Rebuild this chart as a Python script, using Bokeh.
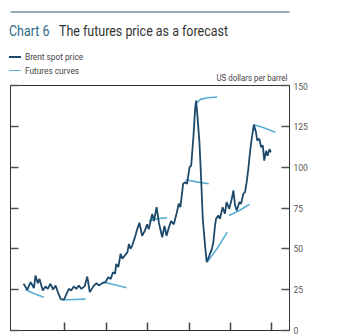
from bokeh.plotting import figure
from bokeh.layouts import column
from bokeh.models import Range1d, LinearAxis, FixedTicker, Div
from bokeh.embed import file_html
from bokeh.resources import INLINE

# ---- data ----
spot_year = [2000.00, 2000.18, 2000.34, 2000.50, 2000.58, 2000.69, 2000.77, 2000.93,
             2001.06, 2001.17, 2001.30, 2001.43, 2001.55, 2001.66, 2001.79, 2001.95,
             2002.08, 2002.19, 2002.30, 2002.43, 2002.55, 2002.67, 2002.79, 2002.95,
             2003.08, 2003.20, 2003.37, 2003.53, 2003.64, 2003.80, 2003.96, 2004.09,
             2004.21, 2004.32, 2004.42, 2004.48, 2004.58, 2004.69, 2004.77, 2004.90,
             2005.02, 2005.09, 2005.17, 2005.25, 2005.38, 2005.49, 2005.60, 2005.73,
             2005.86, 2005.97, 2006.05, 2006.22, 2006.30, 2006.43, 2006.54, 2006.70,
             2006.81, 2006.91, 2007.02, 2007.13, 2007.26, 2007.39, 2007.50, 2007.58,
             2007.71, 2007.82, 2007.90, 2008.02, 2008.10, 2008.21, 2008.29, 2008.34,
             2008.40, 2008.50, 2008.58, 2008.66, 2008.77, 2008.85, 2008.98, 2009.10,
             2009.17, 2009.25, 2009.30, 2009.41, 2009.49, 2009.62, 2009.73, 2009.81,
             2009.94, 2010.06, 2010.14, 2010.22, 2010.30, 2010.43, 2010.51, 2010.62,
             2010.70, 2010.78, 2010.86, 2010.94, 2011.02, 2011.13, 2011.23, 2011.29,
             2011.39, 2011.48, 2011.56, 2011.63, 2011.72, 2011.79, 2011.88, 2011.95]
spot_price = [28.6, 24.9, 29.6, 26.0, 33.7, 29.0, 31.6, 24.5,
              27.0, 25.5, 28.6, 25.0, 27.6, 23.5, 19.4, 18.8,
              22.5, 25.5, 24.5, 27.0, 25.5, 27.6, 25.5, 27.0,
              33.0, 23.5, 27.0, 29.0, 27.6, 29.0, 29.6, 32.6,
              31.6, 35.7, 34.7, 40.8, 38.8, 47.0, 44.0, 46.0,
              48.0, 53.0, 50.0, 52.0, 57.0, 62.0, 66.0, 58.0,
              61.0, 65.0, 62.0, 71.4, 67.0, 75.5, 66.0, 57.0,
              64.0, 58.0, 63.0, 67.0, 65.0, 71.4, 77.6, 75.5,
              89.8, 90.8, 89.8, 100.0, 101.0, 119.0, 135.7, 140.8,
              131.7, 115.0, 92.9, 68.4, 52.0, 41.8, 46.0, 50.0,
              54.0, 64.0, 68.4, 70.4, 68.4, 75.5, 71.5, 78.6,
              74.5, 80.6, 85.7, 76.5, 73.5, 78.6, 77.6, 83.7,
              84.7, 90.8, 99.0, 109.0, 117.0, 126.0, 121.4, 116.3,
              117.4, 112.2, 113.3, 104.0, 110.0, 107.0, 111.0, 109.0]

futures_year = [
    [2000.10, 2000.53, 2000.98],
    [2001.95, 2002.46, 2003.00],
    [2003.86, 2004.40, 2004.98],
    [2006.05, 2006.47, 2006.94],
    [2007.83, 2008.36, 2008.95],
    [2008.38, 2008.55, 2008.89, 2009.36],
    [2008.89, 2009.37, 2009.84],
    [2009.93, 2010.43, 2010.92],
    [2011.14, 2011.64, 2012.17],
]
futures_price = [
    [25.0, 22.5, 20.4],
    [18.8, 19.0, 19.2],
    [29.6, 28.0, 26.2],
    [67.0, 68.5, 69.0],
    [92.3, 91.0, 89.8],
    [139.5, 141.5, 142.5, 143.0],
    [42.0, 50.5, 60.2],
    [70.4, 73.5, 77.3],
    [126.0, 124.0, 121.4],
]

year_ticks = [2002, 2004, 2006, 2008, 2010, 2012]
price_ticks = [0, 25, 50, 75, 100, 125, 150]

title_num = "Chart 6"
title_text = "The futures price as a forecast"
unit_text = "US dollars per barrel"
legend_labels = ["Brent spot price", "Futures curves"]

# ---- styling ----
SPOT = "#1d4a6b"
FUT = "#5aaed3"
FONT = "Roboto"
RULE = "#2f5a6a"
W = 345
RULE_H = 13
HEAD_H = 82 - RULE_H
MAIN_H = 335 - RULE_H - HEAD_H

# ---------- thin rule strip at the very top ----------
r = figure(width=W, height=RULE_H, output_backend="svg", toolbar_location=None,
           x_range=Range1d(10, 289), y_range=Range1d(RULE_H, 0),
           x_axis_location=None, y_axis_location=None,
           min_border=0, min_border_left=0, min_border_right=0,
           min_border_top=0, min_border_bottom=0, margin=0)
r.outline_line_color = None
r.xgrid.visible = False
r.ygrid.visible = False
r.background_fill_color = "white"
r.border_fill_color = "white"
r.segment(x0=[8], y0=[11.5], x1=[337], y1=[11.5], line_color=RULE, line_width=1.1)


def box(left, top, width, height, color):
    return (f'<div style="position:absolute;left:{left}px;top:{top - RULE_H}px;'
            f'width:{width}px;height:{height}px;background-color:{color};"></div>')


def txt(s, left, top, size, color, scale, weight=400, right=None):
    pos = f"right:{right}px;" if right is not None else f"left:{left}px;"
    origin = "right top" if right is not None else "left top"
    return (f'<div style="position:absolute;{pos}top:{top - RULE_H}px;font-size:{size}px;'
            f'line-height:1;color:{color};font-weight:{weight};white-space:nowrap;'
            f'transform:scaleX({scale});transform-origin:{origin};">{s}</div>')


header_html = (
    f'<div style="position:relative;width:{W}px;height:{HEAD_H}px;'
    f'font-family:{FONT}, sans-serif;overflow:visible;">'
    + txt(title_num, 9, 24, 14, "#2d6a85", 0.89)
    + txt(title_text, 59, 24, 14, "#333333", 0.89)
    + box(9, 55.7, 12, 2.6, SPOT)
    + txt(legend_labels[0], 25, 52.4, 9.5, "#444444", 0.87)
    + box(9, 69.5, 12, 1.6, FUT)
    + txt(legend_labels[1], 25, 65.9, 9.5, "#444444", 0.87)
    + txt(unit_text, 0, 72.5, 9.5, "#444444", 0.83, right=W - 287)
    + '</div>'
)
header = Div(text=header_html, width=W, height=HEAD_H, margin=0)

# ---------- main chart ----------
X0, X1 = 1999.37, 2012.85
Y0, Y1 = 0, 150

p = figure(width=W, height=MAIN_H, output_backend="svg", toolbar_location=None,
           x_range=Range1d(X0, X1), y_range=Range1d(Y0, Y1),
           min_border_left=10, min_border_right=56,
           min_border_top=3, min_border_bottom=5, margin=0)
p.background_fill_color = "white"
p.border_fill_color = "white"
p.border_fill_alpha = 0
p.outline_line_color = "#333333"
p.outline_line_width = 1
p.xgrid.visible = False
p.ygrid.visible = False

# bottom axis: inward ticks, labels cut off in the original
xa = p.xaxis[0]
xa.ticker = FixedTicker(ticks=year_ticks)
xa.major_label_overrides = {t: "" for t in year_ticks}
xa.major_tick_in = 8
xa.major_tick_out = 0
xa.minor_tick_in = 0
xa.minor_tick_out = 0
xa.major_tick_line_color = "#444444"
xa.major_tick_line_width = 1.5
xa.axis_line_color = "#333333"
xa.major_label_standoff = 0

# left axis: inward ticks, no labels
ya = p.yaxis[0]
ya.ticker = FixedTicker(ticks=price_ticks)
ya.major_label_overrides = {t: "" for t in price_ticks}
ya.major_tick_in = 8
ya.major_tick_out = 0
ya.minor_tick_in = 0
ya.minor_tick_out = 0
ya.major_tick_line_color = "#555555"
ya.major_tick_line_width = 1.5
ya.axis_line_color = "#333333"
ya.major_label_standoff = 0

# right axis with labels
ra = LinearAxis(ticker=FixedTicker(ticks=price_ticks))
ra.major_tick_in = 8
ra.major_tick_out = 0
ra.minor_tick_in = 0
ra.minor_tick_out = 0
ra.major_tick_line_color = "#555555"
ra.major_tick_line_width = 1.5
ra.axis_line_color = "#333333"
ra.major_label_standoff = 4
ra.major_label_text_font = FONT
ra.major_label_text_font_size = "8.5px"
ra.major_label_text_color = "#555555"
p.add_layout(ra, "right")

p.multi_line(xs=futures_year, ys=futures_price, line_color=FUT, line_width=1.6)
p.line(spot_year, spot_price, line_color=SPOT, line_width=1.8)

layout = column(r, header, p, spacing=0, margin=0)
open("out.html", "w").write(file_html(layout, INLINE))
